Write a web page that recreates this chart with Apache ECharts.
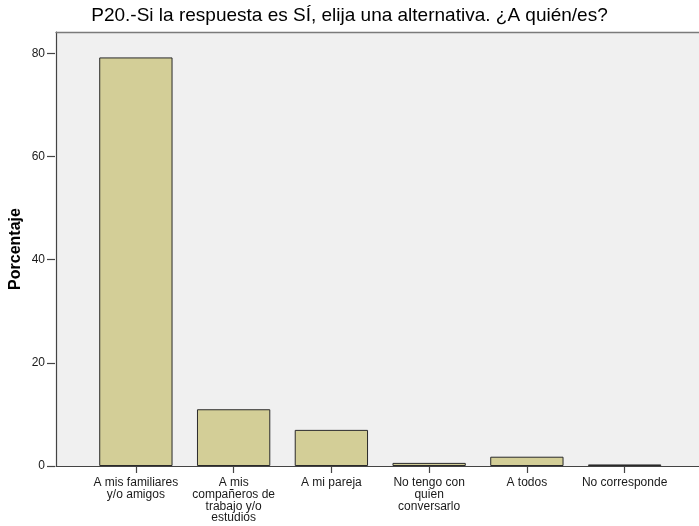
<!DOCTYPE html>
<html>
<head>
<meta charset="utf-8">
<script src="https://cdn.jsdelivr.net/npm/echarts@6/dist/echarts.min.js"></script>
<style>
  html, body { margin: 0; padding: 0; background: #ffffff; }
  #chart { width: 699px; height: 526px; }
</style>
</head>
<body>
<div id="chart"></div>
<script>
// P20 answers: percentage per category
const categories = [
  'A mis familiares\ny/o amigos',
  'A mis\ncompañeros de\ntrabajo y/o\nestudios',
  'A mi pareja',
  'No tengo con\nquien\nconversarlo',
  'A todos',
  'No corresponde'
];
const percentages = [79.2, 11.0, 7.0, 0.6, 1.8, 0.3];
const yTicks = [0, 20, 40, 60, 80];

const FONT = '"Liberation Sans", Arial, sans-serif';
const AXIS_DARK = '#444444';

const chart = echarts.init(document.getElementById('chart'), null, { renderer: 'canvas' });

chart.setOption({
  animation: false,
  backgroundColor: '#ffffff',
  title: {
    text: 'P20.-Si la respuesta es SÍ, elija una alternativa. ¿A quién/es?',
    left: 'center',
    top: 1,
    textStyle: { fontFamily: FONT, fontSize: 19, fontWeight: 'normal', color: '#000000' }
  },
  grid: [
    // plot frame: grey panel with left/bottom axis lines
    { left: 55, right: -20, top: 32, bottom: 60, show: true, backgroundColor: '#f0f0f0', borderWidth: 0 },
    // bar area: category bands and the 0..80 scale
    { left: 87, right: 25.5, top: 53.3, bottom: 60 }
  ],
  xAxis: [
    {
      gridIndex: 0, type: 'value', min: 0, max: 1,
      axisLine: { show: true, lineStyle: { color: AXIS_DARK, width: 1.2 } },
      axisTick: { show: false }, axisLabel: { show: false }, splitLine: { show: false }
    },
    {
      gridIndex: 0, type: 'value', min: 0, max: 1, position: 'top',
      axisLine: { show: true, lineStyle: { color: '#7a7a7a', width: 1.4 } },
      axisTick: { show: false }, axisLabel: { show: false }, splitLine: { show: false }
    },
    {
      gridIndex: 1, type: 'category', data: categories,
      axisLine: { show: false },
      axisTick: { show: true, alignWithLabel: true, length: 7, lineStyle: { color: AXIS_DARK, width: 1.2 } },
      axisLabel: {
        interval: 0, margin: 11, fontFamily: FONT, fontSize: 12, lineHeight: 11.7,
        color: '#1a1a1a', align: 'center'
      },
      splitLine: { show: false }
    }
  ],
  yAxis: [
    {
      gridIndex: 0, type: 'value', min: 0, max: 1,
      axisLine: { show: true, lineStyle: { color: AXIS_DARK, width: 1.2 } },
      axisTick: { show: false }, axisLabel: { show: false }, splitLine: { show: false },
      name: 'Porcentaje', nameLocation: 'middle', nameGap: 32,
      nameTextStyle: { fontFamily: FONT, fontSize: 16, fontWeight: 'bold', color: '#000000' }
    },
    {
      gridIndex: 1, type: 'value', min: yTicks[0], max: yTicks[yTicks.length - 1], interval: 20,
      offset: 32,
      axisLine: { show: false },
      axisTick: { show: true, length: 8, lineStyle: { color: AXIS_DARK, width: 1.2 } },
      axisLabel: { margin: 10, fontFamily: FONT, fontSize: 12, color: '#1a1a1a' },
      splitLine: { show: false }
    }
  ],
  series: [
    {
      type: 'bar',
      xAxisIndex: 2,
      yAxisIndex: 1,
      data: percentages,
      barWidth: '75%',
      itemStyle: { color: '#d3ce97', borderColor: '#2a2a2a', borderWidth: 1 }
    }
  ]
});
</script>
</body>
</html>
